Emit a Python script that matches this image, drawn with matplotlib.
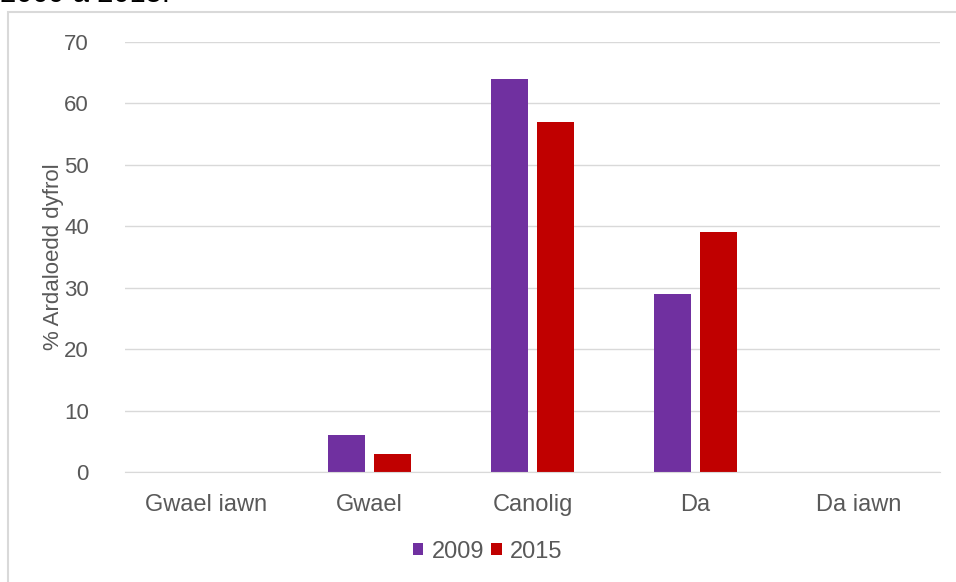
import numpy as np
import matplotlib.pyplot as plt
from matplotlib.patches import Rectangle

plt.rcParams['font.family'] = ['Liberation Sans', 'DejaVu Sans']

categories = ['Gwael iawn', 'Gwael', 'Canolig', 'Da', 'Da iawn']
values_2009 = [0, 6, 64, 29, 0]
values_2015 = [0, 3, 57, 39, 0]

W, H = 956, 582
fig = plt.figure(figsize=(W / 100, H / 100), dpi=100)

# chart frame (runs off the right and bottom edges)
fig.patches.append(Rectangle((8 / W, -0.1), 1.2, (H - 12) / H + 0.1,
                             transform=fig.transFigure, fill=False,
                             edgecolor='#D9D9D9', linewidth=1.5))

# clipped caption line at the very top
fig.text(0, 1 + 6 / H, '2009 a 2015.', fontsize=21, va='center', ha='left',
         color='black')

ax = fig.add_axes([125 / W, 110 / H, 815 / W, 430 / H])
x = np.arange(len(categories))
bw = 0.225
gap = 0.06
ax.bar(x - (bw + gap) / 2, values_2009, bw, color='#7030A0', label='2009')
ax.bar(x + (bw + gap) / 2, values_2015, bw, color='#C00000', label='2015')

ax.set_xlim(-0.5, len(categories) - 0.5)
ax.set_ylim(0, 70)
ax.set_yticks(range(0, 71, 10))
ax.set_xticks(x)
ax.set_xticklabels(categories)
ax.yaxis.grid(True, color='#D9D9D9', linewidth=1)
ax.set_axisbelow(True)
for s in ['top', 'right', 'left']:
    ax.spines[s].set_visible(False)
ax.spines['bottom'].set_color('#D9D9D9')
ax.tick_params(length=0, labelsize=17, colors='#595959')
ax.tick_params(axis='x', pad=16)
ax.tick_params(axis='y', pad=26, labelsize=16)
ax.set_ylabel('% Ardaloedd dyfrol', fontsize=16, color='#595959')
ax.yaxis.set_label_coords(-0.075, 0.5)

ax.legend(loc='center', bbox_to_anchor=(0.445, -0.185), ncol=2, frameon=False,
          fontsize=17, handlelength=0.45, handleheight=0.45, handletextpad=0.35,
          columnspacing=0.3, labelcolor='#595959')

fig.savefig('out.png', dpi=100)
